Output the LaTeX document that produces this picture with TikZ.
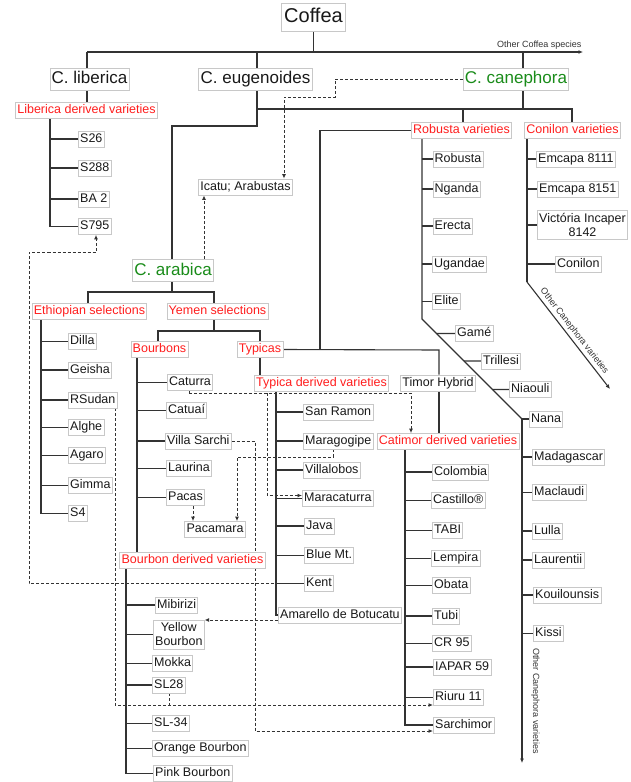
\documentclass[tikz,border=0pt]{standalone}
\usepackage{fontspec}
\setmainfont{Liberation Sans}
\usetikzlibrary{arrows.meta,backgrounds,calc}
\definecolor{lncol}{HTML}{333333}
\definecolor{bxcol}{HTML}{C8C8C8}
\definecolor{redc}{HTML}{FF1E1E}
\definecolor{grnc}{HTML}{1A8C1A}
\begin{document}
\begin{tikzpicture}[x=1pt,y=-1pt,
 lab/.style={draw=bxcol,line width=0.8pt,fill=white,inner xsep=1.8pt,inner ysep=2.2pt,text height=9pt,text depth=2.6pt,font=\fontsize{12.5}{14}\selectfont,text=black!90},
 leaf/.style={lab,anchor=west},
 twoline/.style={draw=bxcol,line width=0.8pt,fill=white,inner xsep=1.8pt,inner ysep=3pt,align=center,font=\fontsize{12.5}{14}\selectfont,text=black!90,anchor=west},
 grp/.style={lab,text=redc},
 big/.style={lab,font=\fontsize{17}{20}\selectfont,text height=12.5pt,text depth=3.5pt,inner ysep=3pt},
 ln/.style={draw=lncol,line width=1.1pt},
 dsh/.style={draw=lncol,line width=0.9pt,dash pattern=on 3pt off 2pt},
 tip/.style={-{Latex[length=4.5pt,width=4pt]}},
 small/.style={font=\fontsize{9}{10}\selectfont,text=lncol,inner sep=1pt}
]
\useasboundingbox (0,0) rectangle (630,782);
% ---------- nodes ----------
\node[lab,font=\fontsize{20}{24}\selectfont,text height=14.5pt,text depth=4.3pt,inner ysep=4.5pt,inner xsep=3pt] (coffea) at (313.5,17) {Coffea};
\node[big] (liberica) at (89.5,79) {C. liberica};
\node[big] (eugen) at (255.5,79) {C. eugenoides};
\node[big,text=grnc] (caneph) at (516,79) {C. canephora};
\node[grp] (libvar) at (86.5,110) {Liberica derived varieties};
\node[leaf] (s26) at (78,139) {S26};
\node[leaf] (s288) at (78,168) {S288};
\node[leaf] (ba2) at (78,199) {BA 2};
\node[leaf] (s795) at (78,226.5) {S795};
\node[grp] (robvar) at (461.5,130.5) {Robusta varieties};
\node[grp] (convar) at (572.5,130.5) {Conilon varieties};
\node[leaf] (robusta) at (432.5,159) {Robusta};
\node[leaf] (nganda) at (432.5,189) {Nganda};
\node[leaf] (erecta) at (432.5,226) {Erecta};
\node[leaf] (ugandae) at (432,264) {Ugandae};
\node[leaf] (elite) at (432,301.5) {Elite};
\node[leaf] (game) at (455,333.5) {Gamé};
\node[leaf] (trillesi) at (481,361) {Trillesi};
\node[leaf] (niaouli) at (509,389.5) {Niaouli};
\node[leaf] (nana) at (529,419) {Nana};
\node[leaf] (madag) at (532,457) {Madagascar};
\node[leaf] (maclaudi) at (532,492.5) {Maclaudi};
\node[leaf] (lulla) at (532,531) {Lulla};
\node[leaf] (laurentii) at (532,560) {Laurentii};
\node[leaf] (kouil) at (533,595) {Kouilounsis};
\node[leaf] (kissi) at (533,633.5) {Kissi};
\node[leaf] (em8111) at (536,159) {Emcapa 8111};
\node[leaf] (em8151) at (537,189) {Emcapa 8151};
\node[twoline] (victoria) at (537,225) {Victória Incaper\\8142};
\node[leaf] (conilon) at (555,264) {Conilon};
\node[lab] (icatu) at (245.5,187) {Icatu; Arabustas};
\node[big,text=grnc] (arabica) at (173,270.5) {C. arabica};
\node[grp] (ethio) at (89.5,311.5) {Ethiopian selections};
\node[grp] (yemen) at (217.5,311.5) {Yemen selections};
\node[leaf] (dilla) at (68,341.5) {Dilla};
\node[leaf] (geisha) at (68,370) {Geisha};
\node[leaf] (rsudan) at (68,400) {RSudan};
\node[leaf] (alghe) at (68,427.5) {Alghe};
\node[leaf] (agaro) at (68,455.5) {Agaro};
\node[leaf] (gimma) at (68,485.5) {Gimma};
\node[leaf] (s4) at (68,513.5) {S4};
\node[grp] (bourbons) at (159.5,349.5) {Bourbons};
\node[grp] (typicas) at (260,349.5) {Typicas};
\node[leaf] (caturra) at (167,382.5) {Caturra};
\node[leaf] (catuai) at (166,410.5) {Catuaí};
\node[leaf] (villa) at (165,441) {Villa Sarchi};
\node[leaf] (laurina) at (166,468.5) {Laurina};
\node[leaf] (pacas) at (166,497.5) {Pacas};
\node[lab] (pacamara) at (215,529.5) {Pacamara};
\node[grp] (bourder) at (192.5,560.5) {Bourbon derived varieties};
\node[leaf] (mibirizi) at (155,605) {Mibirizi};
\node[twoline] (yellow) at (153,634.5) {Yellow\\Bourbon};
\node[leaf] (mokka) at (152,663.5) {Mokka};
\node[leaf] (sl28) at (152,685) {SL28};
\node[leaf] (sl34) at (152,723.5) {SL-34};
\node[leaf] (orange) at (152,748.5) {Orange Bourbon};
\node[leaf] (pink) at (153,773.5) {Pink Bourbon};
\node[grp] (typder) at (321.5,383) {Typica derived varieties};
\node[lab] (timor) at (438,383) {Timor Hybrid};
\node[grp] (catimor) at (448,441.5) {Catimor derived varieties};
\node[leaf] (sanramon) at (303,412) {San Ramon};
\node[leaf] (maragogipe) at (303,441) {Maragogipe};
\node[leaf] (villalobos) at (303,470) {Villalobos};
\node[leaf] (maracaturra) at (302,498.5) {Maracaturra};
\node[leaf] (java) at (304,526) {Java};
\node[leaf] (bluemt) at (304,555.5) {Blue Mt.};
\node[leaf] (kent) at (304,583.5) {Kent};
\node[leaf] (amarello) at (278,615) {Amarello de Botucatu};
\node[leaf] (colombia) at (432,472) {Colombia};
\node[leaf] (castillo) at (431,500.5) {Castillo®};
\node[leaf] (tabi) at (432,530.5) {TABI};
\node[leaf] (lempira) at (431,558.5) {Lempira};
\node[leaf] (obata) at (432,585.5) {Obata};
\node[leaf] (tubi) at (432,616) {Tubi};
\node[leaf] (cr95) at (432,643.5) {CR 95};
\node[leaf] (iapar) at (433,667) {IAPAR 59};
\node[leaf] (riuru) at (433,697.5) {Riuru 11};
\node[leaf] (sarchimor) at (433,725) {Sarchimor};
\node[small,rotate=-90] (ocv2) at (535.5,701) {Other Canephora varieties};
% ---------- connectors ----------
\begin{pgfonlayer}{background}
\coordinate (b1) at (87,52);
\coordinate (b2) at (583,52);
\coordinate (b3) at (257,52);
\coordinate (b4) at (523,52);
\draw[ln,tip] (b1) -- (b2) node[small,pos=1,anchor=south east,yshift=1.5pt] {Other Coffea species};
\draw[ln] (coffea.south) -- (coffea.south |- b1);
\draw[ln] (b1) -- (b1 |- liberica.north);
\draw[ln] (b3) -- (b3 |- eugen.north);
\draw[ln] (b4) -- (b4 |- caneph.north);
% liberica
\draw[ln] (liberica.south -| b1) -- (libvar.north -| b1);
\coordinate (lv) at (50,0);
\draw[ln] (libvar.south -| lv) |- (s795.west);
\foreach \n in {s26,s288,ba2} \draw[ln] (\n.west -| lv) -- (\n.west);
% eugenoides / canephora
\coordinate (e1) at (257,109);
\coordinate (e2) at (572,109);
\coordinate (e3) at (172,126);
\coordinate (e4) at (463,109);
\draw[ln] (eugen.south -| e1) |- (e3) -- (e3 |- arabica.north);
\draw[ln] (e1) -- (e2) -- (e2 |- convar.north);
\draw[ln] (caneph.south -| b4) -- (b4 |- e1);
\draw[ln] (e4) -- (e4 |- robvar.north);
% robusta
\coordinate (r1) at (320,350);
\draw[ln] (robvar.west) -| (r1);
\coordinate (rv) at (422,319);
\coordinate (rd) at (522,419);
\coordinate (rend) at (522,763);
\draw[ln] (robvar.south -| rv) -- (rv) -- (rd);
\draw[ln,tip] (rd) -- (rend);
\foreach \n in {robusta,nganda,erecta,ugandae,elite} \draw[ln] (\n.west -| rv) -- (\n.west);
\foreach \n in {game,trillesi,niaouli} \draw[ln] (intersection of \n.west--\n.east and rv--rd) -- (\n.west);
\foreach \n in {nana,madag,maclaudi,lulla,laurentii,kouil,kissi} \draw[ln] (\n.west -| rd) -- (\n.west);
% conilon
\coordinate (cv) at (527,282);
\coordinate (cend) at (610,389);
\draw[ln] (convar.south -| cv) -- (cv);
\draw[ln,tip] (cv) -- (cend) node[small,midway,sloped,above,inner sep=2.5pt] {Other Canephora varieties};
\foreach \n in {em8111,em8151,victoria,conilon} \draw[ln] (\n.west -| cv) -- (\n.west);
% arabica
\coordinate (a1) at (88,292);
\coordinate (a2) at (214,292);
\draw[ln] (arabica.south -| e3) -- (e3 |- a1);
\draw[ln] (ethio.north -| a1) |- (a2) -- (yemen.north -| a2);
% ethiopian
\coordinate (ev) at (41,0);
\draw[ln] (ethio.south -| ev) |- (s4.west);
\foreach \n in {dilla,geisha,rsudan,alghe,agaro,gimma} \draw[ln] (\n.west -| ev) -- (\n.west);
% yemen
\coordinate (y1) at (158,331);
\coordinate (y2) at (260,331);
\draw[ln] (yemen.south -| a2) -- (a2 |- y1);
\draw[ln] (bourbons.north -| y1) |- (y2) -- (typicas.north -| y2);
% bourbons
\coordinate (bv) at (137,0);
\draw[ln] (bourbons.south -| bv) -- (bourder.north -| bv);
\foreach \n in {caturra,catuai,villa,laurina,pacas} \draw[ln] (\n.west -| bv) -- (\n.west);
% bourbon derived
\coordinate (bdv) at (126,0);
\draw[ln] (bourder.south -| bdv) |- (pink.west);
\foreach \n in {mibirizi,yellow,mokka,sl28,sl34,orange} \draw[ln] (\n.west -| bdv) -- (\n.west);
% typicas
\coordinate (t1) at (439,350);
\draw[ln] (typicas.east) -- (t1) -- (timor.north -| t1);
\draw[ln] (typicas.south -| y2) -- (typder.north -| y2);
\draw[ln] (timor.south -| t1) -- (catimor.north -| t1);
% typica derived
\coordinate (tv) at (276,0);
\draw[ln] (typder.south -| tv) |- (amarello.west);
\foreach \n in {sanramon,maragogipe,villalobos,maracaturra,java,bluemt,kent} \draw[ln] (\n.west -| tv) -- (\n.west);
% catimor derived
\coordinate (cmv) at (405,0);
\draw[ln] (catimor.south -| cmv) |- (sarchimor.west);
\foreach \n in {colombia,castillo,tabi,lempira,obata,tubi,cr95,iapar,riuru} \draw[ln] (\n.west -| cmv) -- (\n.west);
% ---------- dashed ----------
\coordinate (dc1) at (335,97);
\coordinate (dc2) at (284,97);
\draw[dsh,tip] (caneph.west) -| (dc1) -- (dc2) -- (dc2 |- icatu.north);
\coordinate (da) at (204,0);
\draw[dsh,tip] (arabica.north -| da) -- (icatu.south -| da);
\coordinate (dk1) at (29,252);
\coordinate (dk2) at (96,252);
\draw[dsh,tip] (kent.west) -| (dk1) -- (dk2) -- (dk2 |- s795.south);
\draw[dsh,tip] ([yshift=-5pt]amarello.west) -- ([yshift=-5pt]amarello.west -| yellow.east);
\coordinate (dt1) at (189,393);
\coordinate (dt2) at (411,393);
\coordinate (dt3) at (267,393);
\draw[dsh] (caturra.south -| dt1) -- (dt1);
\draw[dsh,tip] (dt1) -- (dt2) -- (dt2 |- catimor.north);
\draw[dsh,tip] (dt3) |- ([yshift=3pt]maracaturra.west);
\coordinate (dv) at (255,0);
\draw[dsh,tip] (villa.east) -- (villa.east -| dv) |- ([yshift=-6pt]sarchimor.west);
\coordinate (dm1) at (333,457);
\coordinate (dm2) at (237,457);
\draw[dsh,tip] (maragogipe.south -| dm1) -- (dm1) -- (dm2) -- (dm2 |- pacamara.north);
\coordinate (dp) at (193,0);
\draw[dsh,tip] (pacas.south -| dp) -- (pacamara.north -| dp);
\coordinate (dr) at (115,705);
\draw[dsh,tip] (rsudan.south -| dr) -- (dr) -- (dr -| riuru.west);
\coordinate (ds) at (169,705);
\draw[dsh] (sl28.south -| ds) -- (ds);
\end{pgfonlayer}
\end{tikzpicture}
\end{document}
